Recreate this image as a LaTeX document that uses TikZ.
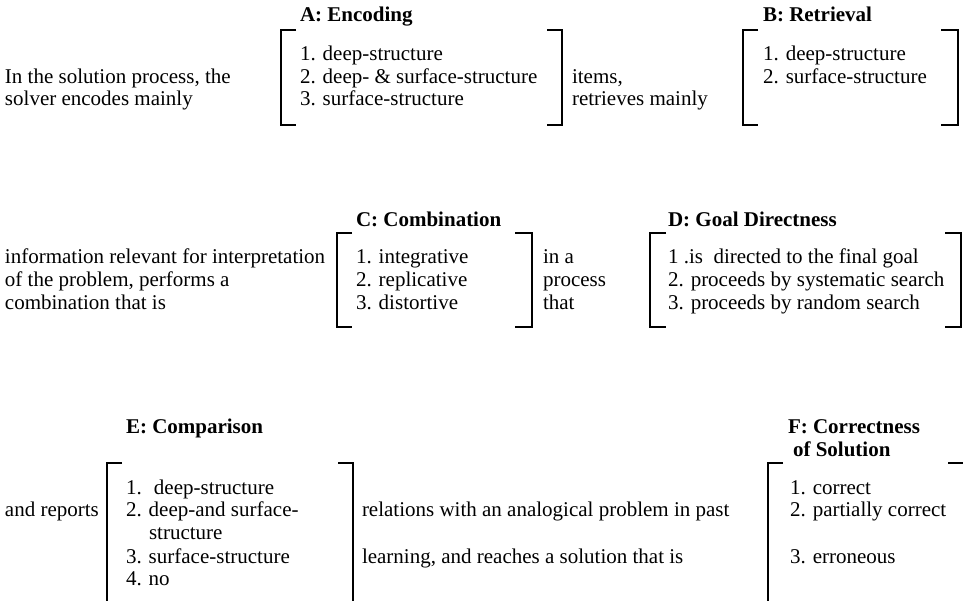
\documentclass[tikz,border=0pt]{standalone}
\usepackage{fontspec}
\setmainfont{Liberation Serif}
\begin{document}
\begin{tikzpicture}[x=1pt,y=-1pt,
  txt/.style={anchor=base west, inner sep=0pt, outer sep=0pt, font=\fontsize{21}{23}\selectfont},
  ttl/.style={anchor=base west, inner sep=0pt, outer sep=0pt, font=\fontsize{21}{23}\selectfont\bfseries},
  brk/.style={line width=2pt}]
\useasboundingbox (0,0) rectangle (963,601);
% ---------- Row 1 ----------
\node[txt] (l1a) at (5,84) {In the solution process, the};
\node[txt] (l1b) at (5,106) {solver encodes mainly};
\node[ttl] (tA) at (300,22) {A: Encoding};
\node[txt] (a1) at (300,61) {1. deep-structure};
\node[txt] (a2) at (300,84) {2. deep- \& surface-structure};
\node[txt] (a3) at (300,106) {3. surface-structure};
\node[txt] (m1a) at (572,84) {items,};
\node[txt] (m1b) at (572,106) {retrieves mainly};
\node[ttl] (tB) at (763,22) {B: Retrieval};
\node[txt] (b1) at (763,61) {1. deep-structure};
\node[txt] (b2) at (763,84) {2. surface-structure};
\draw[brk] (296,30) -- (281,30) -- (281,125) -- (296,125);
\draw[brk] (547,30) -- (562,30) -- (562,125) -- (547,125);
\draw[brk] (758,30) -- (743,30) -- (743,125) -- (758,125);
\draw[brk] (941,30) -- (958,30) -- (958,125) -- (941,125);
% ---------- Row 2 ----------
\node[txt] (l2a) at (5,264) {information relevant for interpretation};
\node[txt] (l2b) at (5,287) {of the problem, performs a};
\node[txt] (l2c) at (5,309) {combination that is};
\node[ttl] (tC) at (356,227) {C: Combination};
\node[txt] (c1) at (356,264) {1. integrative};
\node[txt] (c2) at (356,287) {2. replicative};
\node[txt] (c3) at (356,309) {3. distortive};
\node[txt] (m2a) at (543,264) {in a};
\node[txt] (m2b) at (543,287) {process};
\node[txt] (m2c) at (543,309) {that};
\node[ttl] (tD) at (668,227) {D: Goal Directness};
\node[txt] (d1) at (668,264) {1 .is~ directed to the final goal};
\node[txt] (d2) at (668,287) {2. proceeds by systematic search};
\node[txt] (d3) at (668,309) {3. proceeds by random search};
\draw[brk] (352,233) -- (337,233) -- (337,327) -- (352,327);
\draw[brk] (515,233) -- (532,233) -- (532,327) -- (515,327);
\draw[brk] (666,233) -- (650,233) -- (650,327) -- (666,327);
\draw[brk] (945,233) -- (961,233) -- (961,327) -- (945,327);
% ---------- Row 3 ----------
\node[ttl] (tE) at (126,433) {E: Comparison};
\node[txt] (l3) at (5,516) {and reports};
\node[txt] (e1) at (126,494) {1.~ deep-structure};
\node[txt] (e2) at (126,516) {2. deep-and surface-};
\node[txt] (e2b) at (149,539) {structure};
\node[txt] (e3) at (126,563) {3. surface-structure};
\node[txt] (e4) at (126,585) {4. no};
\node[txt] (r3a) at (362,516) {relations with an analogical problem in past};
\node[txt] (r3b) at (362,563) {learning, and reaches a solution that is};
\node[ttl] (tF1) at (788,433) {F: Correctness};
\node[ttl] (tF2) at (793,456) {of Solution};
\node[txt] (f1) at (790,494) {1. correct};
\node[txt] (f2) at (790,516) {2. partially correct};
\node[txt] (f3) at (790,563) {3. erroneous};
\draw[brk] (122,463) -- (107,463) -- (107,601);
\draw[brk] (338,463) -- (353,463) -- (353,601);
\draw[brk] (783,463) -- (768,463) -- (768,601);
\draw[brk] (948,463) -- (963,463);
\end{tikzpicture}
\end{document}
